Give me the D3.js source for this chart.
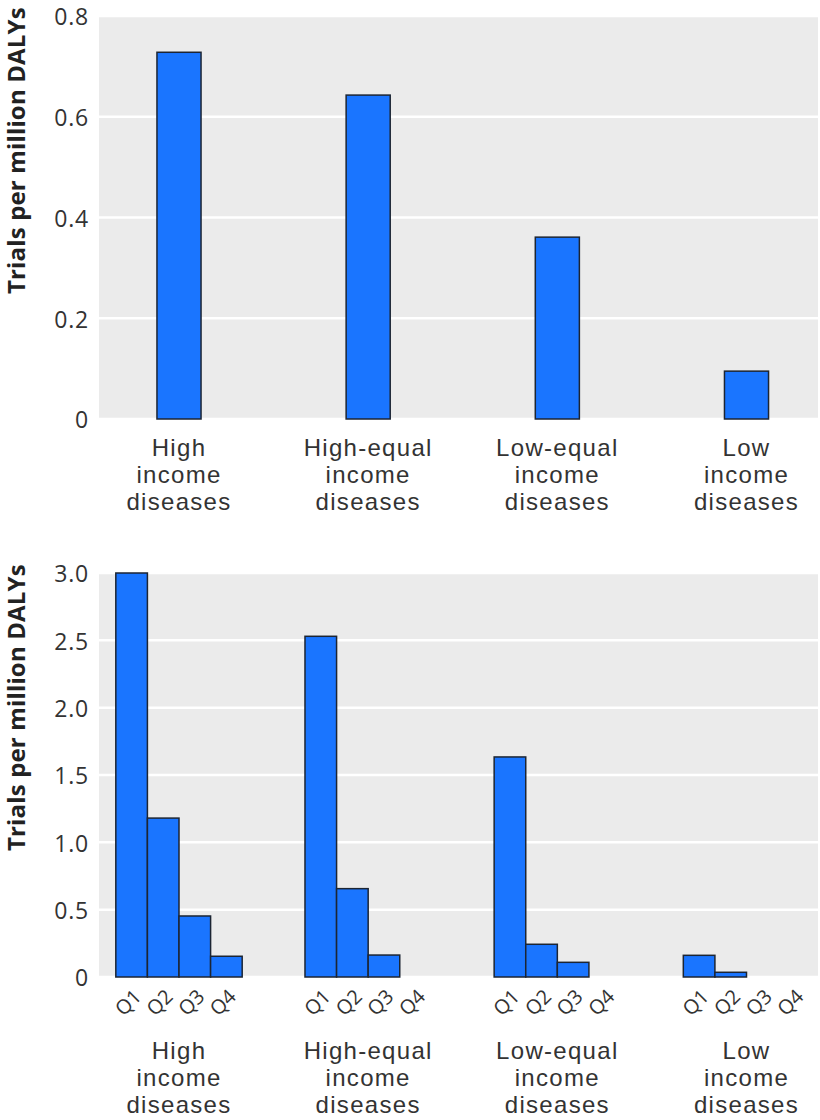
<!DOCTYPE html>
<html lang="en">
<head>
<meta charset="utf-8">
<title>Trials per million DALYs</title>
<script src="https://cdn.jsdelivr.net/npm/d3@7"></script>
<style>
  body { margin: 0; background: #fff; }
  text { font-family: "Open Sans", "Noto Sans", sans-serif; fill: #333; }
</style>
</head>
<body>
<svg width="820" height="1120"></svg>
<script>
// data
var categories = ['High income diseases', 'High-equal income diseases', 'Low-equal income diseases', 'Low income diseases'];
var catLines = [['High', 'income', 'diseases'], ['High-equal', 'income', 'diseases'], ['Low-equal', 'income', 'diseases'], ['Low', 'income', 'diseases']];
var overall = [0.728, 0.643, 0.361, 0.095];
var quartiles = ['Q1', 'Q2', 'Q3', 'Q4'];
var byQuartile = [
    [3.00, 1.18, 0.453, 0.154],
    [2.53, 0.656, 0.163, 0],
    [1.634, 0.243, 0.109, 0],
    [0.161, 0.035, 0, 0]
];
var topTicks = [0, 0.2, 0.4, 0.6, 0.8];
var bottomTicks = [0, 0.5, 1.0, 1.5, 2.0, 2.5, 3.0];
var yTitle = 'Trials per million DALYs';

var svg = d3.select('svg');
var plotLeft = 99, plotRight = 818;

var x = d3.scaleLinear().domain([1, 4]).range([179, 746.5]);
var unit = x(2) - x(1);

function panel(yTop, yBottom, maxVal, ticks, fmt) {
    var y = d3.scaleLinear().domain([0, maxVal]).range([yBottom, yTop]);
    var g = svg.append('g');
    g.append('rect')
        .attr('x', plotLeft).attr('y', yTop)
        .attr('width', plotRight - plotLeft).attr('height', yBottom - yTop)
        .style('fill', '#ebebeb');
    g.selectAll('line.grid')
        .data(ticks)
        .enter()
        .append('line')
        .attr('class', 'grid')
        .attr('x1', plotLeft).attr('x2', plotRight)
        .attr('y1', d => y(d)).attr('y2', d => y(d))
        .style('stroke', '#fff')
        .style('stroke-width', 2.5);

    var axis = d3.axisLeft(y).tickValues(ticks).tickSize(0).tickPadding(10).tickFormat(fmt);
    var ag = g.append('g').attr('transform', 'translate(' + plotLeft + ',0)').call(axis);
    ag.select('.domain').remove();
    ag.selectAll('text')
        .attr('dy', '0.38em')
        .style('font-size', '23px')
        .style('font-family', '"Open Sans", "Noto Sans", sans-serif')
        .style('letter-spacing', '0.8px')
        .style('fill', '#333');

    // axis title sits high, reading up from about 278px below the panel top
    g.append('text')
        .attr('transform', 'translate(25,' + (yTop + 278) + ') rotate(-90)')
        .attr('text-anchor', 'start')
        .style('font-size', '24px')
        .style('font-weight', 'bold')
        .style('letter-spacing', '0.15px')
        .style('fill', '#222')
        .text(yTitle);
    return {g: g, y: y};
}

function catLabels(yFirst) {
    var t = svg.selectAll(null)
        .data(catLines)
        .enter()
        .append('text')
        .attr('text-anchor', 'middle')
        .style('font-family', '"Liberation Sans", Arial, sans-serif')
        .style('font-size', '24px')
        .style('letter-spacing', '1.3px')
        .style('fill', '#333');
    t.selectAll('tspan')
        .data((d, i) => d.map(s => ({s: s, i: i})))
        .enter()
        .append('tspan')
        .attr('x', d => x(d.i + 1))
        .attr('y', (d, j) => yFirst + j * 27)
        .text(d => d.s);
}

// top panel
var p1 = panel(16, 419, 0.8, topTicks, d => d === 0 ? '0' : d3.format('.1f')(d));
var w1 = 0.233 * unit;
p1.g.selectAll('rect.bar')
    .data(overall)
    .enter()
    .append('rect')
    .attr('class', 'bar')
    .attr('x', (d, i) => x(i + 1) - w1 / 2)
    .attr('width', w1)
    .attr('y', d => p1.y(d))
    .attr('height', d => p1.y(0) - p1.y(d))
    .style('fill', '#1a75ff')
    .style('stroke', '#1c2533')
    .style('stroke-width', 1.5);
catLabels(456);

// bottom panel
var p2 = panel(573, 977, 3.0, bottomTicks, d => d === 0 ? '0' : d3.format('.1f')(d));
var w2 = 0.167 * unit;
var flat = [];
byQuartile.forEach((row, i) => row.forEach((v, j) => flat.push({c: i, q: j, v: v})));
function qx(d) { return x(d.c + 1) + (d.q - 1.5) * w2; }
p2.g.selectAll('rect.bar')
    .data(flat.filter(d => d.v > 0))
    .enter()
    .append('rect')
    .attr('class', 'bar')
    .attr('x', d => qx(d) - w2 / 2)
    .attr('width', w2)
    .attr('y', d => p2.y(d.v))
    .attr('height', d => p2.y(0) - p2.y(d.v))
    .style('fill', '#1a75ff')
    .style('stroke', '#1c2533')
    .style('stroke-width', 1.5);
p2.g.selectAll('text.q')
    .data(flat)
    .enter()
    .append('text')
    .attr('class', 'q')
    .attr('text-anchor', 'end')
    .attr('transform', d => 'translate(' + (qx(d) + 11) + ',' + 998 + ') rotate(-45)')
    .style('font-size', '20px')
    .style('fill', '#333')
    .text(d => quartiles[d.q]);
catLabels(1059);
</script>
</body>
</html>
